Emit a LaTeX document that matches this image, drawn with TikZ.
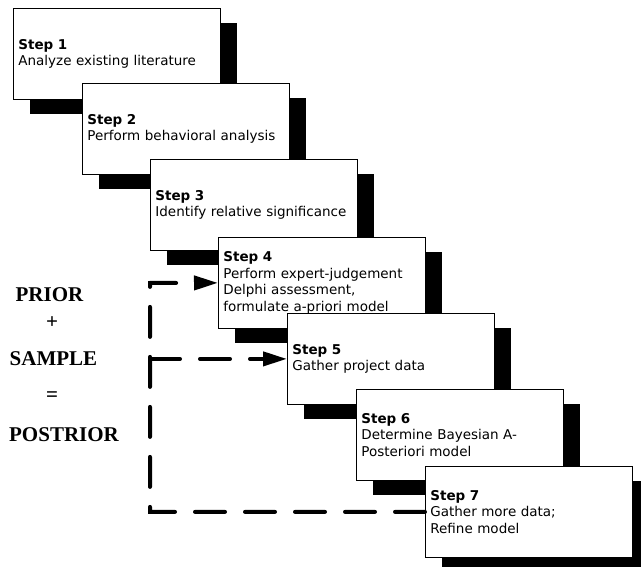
\documentclass[tikz,border=0pt]{standalone}
\usepackage{fontspec}
\newfontfamily\boxfont{DejaVu Sans}
\newfontfamily\sumfont{Liberation Serif}
\usetikzlibrary{arrows.meta,shadows}

\begin{document}
\begin{tikzpicture}[x=1pt,y=-1pt]

\tikzset{
    stepbox/.style={draw,line width=0.8pt,fill=white,anchor=north west,
        minimum width=207pt,minimum height=91pt,text width=197pt,inner xsep=5pt,
        align=left,font=\boxfont\fontsize{13.5}{16.5}\selectfont,
        execute at begin node={\hyphenpenalty=10000},
        drop shadow={shadow xshift=17pt,shadow yshift=-15pt,fill=black,opacity=1}},
    sumtext/.style={font=\sumfont\bfseries\fontsize{21}{24}\selectfont},
    feedback/.style={line width=4pt,line cap=round,dash pattern=on 30pt off 20pt}}

\path[use as bounding box,clip] (0,0) rectangle (641,567);

\node[stepbox] (s1) at (13,8) {\textbf{Step 1}\\Analyze existing literature};
\node[stepbox] (s2) at (82,83) {\textbf{Step 2}\\Perform behavioral analysis};
\node[stepbox] (s3) at (150,159) {\textbf{Step 3}\\Identify relative significance};
\node[stepbox] (s4) at (218,237) {\textbf{Step 4}\\Perform expert-judgement\\Delphi assessment,\\formulate a-priori model};
\node[stepbox] (s5) at (287,313) {\textbf{Step 5}\\Gather project data};
\node[stepbox] (s6) at (356,389) {\textbf{Step 6}\\Determine Bayesian A-\\Posteriori model};
\node[stepbox] (s7) at (425,466) {\textbf{Step 7}\\Gather more data;\\Refine model};

\node[sumtext] (prior) at (49.5,295) {PRIOR};
\node[sumtext] (plus) at (52,323) {+};
\node[sumtext] (sample) at (53.5,359) {SAMPLE};
\node[sumtext] (equals) at (52,397) {=};
\node[sumtext] (post) at (64,435) {POSTRIOR};

\coordinate (c1) at (150,283);

\draw[feedback,-{Triangle[length=24pt,width=14pt]}] (s7.west) -| (c1) -- (s4.west);
\draw[feedback,-{Triangle[length=24pt,width=14pt]}] (c1 |- s5.west) -- (s5.west);

\end{tikzpicture}
\end{document}
